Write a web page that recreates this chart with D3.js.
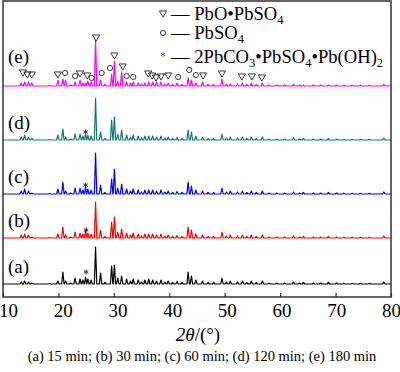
<!DOCTYPE html>
<html>
<head>
<meta charset="utf-8">
<title>xrd</title>
<script type="text/javascript" src="https://d3js.org/d3.v7.js"></script>
<style>
  body { margin: 0; background: #fff; }
  text { font-family: "Liberation Serif", "Times New Roman", serif; }
</style>
</head>
<body>
<script type="text/javascript">
const width = 400;
const height = 372;

// peak positions (2theta) and intensities for each sample
const twoTheta = [13.3, 13.9, 14.6, 15.2, 18.4, 19.9, 20.8, 21.3, 22.2, 23.0, 23.9, 24.4, 24.9, 25.3, 25.9,
  26.7, 27.6, 28.4, 29.6, 30.1, 30.7, 31.4, 32.3, 33.0, 33.5, 34.4, 35.0, 35.6, 36.3, 37.0, 37.7, 38.5,
  39.2, 39.8, 40.6, 41.4, 42.3, 43.4, 44.0, 44.8, 46.0, 47.0, 48.0, 49.5, 50.3, 51.0, 52.3, 53.2, 54.0,
  54.8, 55.7, 56.8, 58.0, 59.4, 60.8, 62.4, 63.5, 64.2, 66.0, 67.3, 68.7, 70.2, 71.5, 73.0, 74.5, 76.1, 78.7];
const intA = [20, 30, 20, 10, 5, 30, 120, 30, 10, 60, 50, 40, 70, 50, 40,
  370, 110, 15, 180, 190, 60, 80, 50, 30, 50, 40, 20, 40, 50, 40, 30, 40,
  20, 30, 15, 25, 15, 120, 80, 40, 30, 15, 15, 60, 20, 30, 20, 30, 15,
  30, 15, 30, 10, 10, 10, 20, 10, 15, 10, 10, 15, 10, 8, 8, 8, 8, 20];
const intB = [30, 40, 30, 10, 5, 40, 110, 30, 10, 60, 50, 40, 80, 50, 40,
  360, 80, 15, 160, 210, 60, 90, 50, 30, 50, 40, 20, 40, 40, 40, 30, 40,
  20, 30, 15, 25, 15, 110, 80, 40, 30, 15, 15, 60, 20, 30, 20, 30, 15,
  30, 15, 30, 10, 10, 10, 20, 10, 15, 10, 10, 15, 10, 8, 8, 8, 8, 20];
const intC = [30, 50, 30, 10, 5, 50, 120, 30, 10, 60, 60, 40, 70, 50, 40,
  410, 90, 15, 150, 250, 60, 100, 50, 30, 50, 40, 20, 40, 40, 40, 30, 40,
  20, 30, 15, 25, 15, 120, 80, 40, 30, 15, 15, 60, 20, 30, 20, 30, 15,
  30, 15, 30, 10, 10, 10, 20, 10, 15, 10, 10, 15, 10, 8, 8, 8, 8, 20];
const intD = [30, 50, 30, 20, 5, 50, 110, 30, 10, 60, 60, 40, 60, 50, 40,
  420, 80, 15, 200, 230, 60, 100, 50, 30, 50, 40, 20, 40, 40, 40, 30, 40,
  20, 30, 15, 25, 15, 100, 80, 40, 30, 15, 15, 60, 20, 30, 20, 30, 15,
  30, 15, 30, 10, 10, 10, 20, 10, 15, 10, 10, 15, 10, 8, 8, 8, 8, 20];
const intE = [30, 40, 40, 30, 5, 60, 70, 60, 10, 40, 60, 30, 30, 50, 40,
  460, 60, 15, 120, 250, 50, 140, 40, 30, 40, 30, 20, 30, 40, 40, 40, 40,
  20, 30, 15, 30, 15, 80, 60, 30, 40, 15, 15, 70, 15, 20, 20, 30, 15,
  30, 15, 30, 10, 10, 10, 15, 10, 10, 10, 10, 10, 10, 8, 8, 8, 8, 15];
const series = [intA, intB, intC, intD, intE];
const offsets = [130, 590, 1030, 1570, 2110];
const labels = ["(a)", "(b)", "(c)", "(d)", "(e)"];

// phase markers on pattern (e): position and height above its baseline
const triTheta = [13.6, 14.4, 15.2, 19.9, 23.9, 25.2, 26.8, 30.1, 31.6, 36.2, 36.9, 37.6, 38.5, 39.8, 46.1, 49.5, 53.1, 54.9, 56.7];
const triLevel = [140, 120, 120, 120, 130, 110, 490, 310, 200, 130, 110, 90, 100, 110, 110, 130, 100, 100, 90];
const circTheta = [21.2, 23.0, 26.0, 27.8, 29.3, 32.3, 33.5, 41.6, 43.6, 44.8];
const circLevel = [130, 100, 80, 130, 180, 100, 90, 90, 160, 110];
// asterisk marks on (a)-(d)
const starTheta = [25.0, 25.0, 24.9, 24.9];
const starLevel = [120, 80, 90, 80];

const xTicks = [10, 20, 30, 40, 50, 60, 70, 80];

const colors = ["#000000", "#ff0000", "#0000ff", "#137a70", "#ff00ff"];

const svg = d3.select("body")
  .append("svg")
  .attr("width", width)
  .attr("height", height);

const x = d3.scaleLinear().domain([10, 80]).range([3, 391]);
const y = d3.scaleLinear().domain([0, 2960]).range([297, 1]);
const xLab = d3.scaleLinear().domain([10, 80]).range([8, 391]);

// build each pattern from its peak list
const w = 0.22;
function profile(h, off) {
  const pts = [[10, off], [80, off]];
  twoTheta.forEach((p, i) => {
    pts.push([p - w, off], [p, off + h[i]], [p + w, off]);
  });
  pts.sort((a, b) => a[0] - b[0]);
  return pts;
}

const line = d3.line().x(d => x(d[0])).y(d => y(d[1]));

series.forEach((s, i) => {
  svg.append("path")
    .attr("d", line(profile(s, offsets[i])))
    .attr("fill", "none")
    .attr("stroke", colors[i])
    .attr("stroke-width", 1.2)
    .attr("stroke-linejoin", "round");
  svg.append("text")
    .attr("x", 8)
    .attr("y", y(offsets[i]) - (i == 4 ? 23 : 11))
    .attr("font-size", 19)
    .text(labels[i]);
});

// markers
const tri = d3.symbol().type(d3.symbolTriangle).size(22);
svg.selectAll(".tri")
  .data(triTheta)
  .enter().append("path")
  .attr("d", tri)
  .attr("transform", (d, i) => `translate(${x(d)},${y(offsets[4] + triLevel[i])}) rotate(180)`)
  .attr("fill", "none")
  .attr("stroke", "#222")
  .attr("stroke-width", 0.9);

svg.selectAll(".circ")
  .data(circTheta)
  .enter().append("circle")
  .attr("cx", d => x(d))
  .attr("cy", (d, i) => y(offsets[4] + circLevel[i]))
  .attr("r", 2.6)
  .attr("fill", "none")
  .attr("stroke", "#222")
  .attr("stroke-width", 0.9);

const star = d3.symbol().type(d3.symbolAsterisk).size(18);
svg.selectAll(".star")
  .data(starTheta)
  .enter().append("path")
  .attr("d", star)
  .attr("transform", (d, i) => `translate(${x(d)},${y(offsets[i] + starLevel[i])})`)
  .attr("fill", "none")
  .attr("stroke", "#333")
  .attr("stroke-width", 1);

// frame and axis
svg.append("rect")
  .attr("x", 3).attr("y", 1)
  .attr("width", 388).attr("height", 296)
  .attr("fill", "none")
  .attr("stroke", "#333")
  .attr("stroke-width", 1.5);

const ax = svg.append("g")
  .attr("transform", "translate(0,297)")
  .call(d3.axisBottom(x).tickValues(xTicks).tickSizeInner(-4).tickSizeOuter(0).tickPadding(7));
ax.select(".domain").remove();
ax.selectAll("line").attr("stroke", "#333").attr("stroke-width", 1.2);
ax.selectAll("text")
  .attr("font-size", 19)
  .attr("font-family", "Liberation Serif")
  .attr("fill", "#000")
  .attr("dx", d => xLab(d) - x(d));

// x title
const t = svg.append("text")
  .attr("x", 198).attr("y", 341)
  .attr("text-anchor", "middle")
  .attr("font-size", 19);
t.append("tspan").attr("font-style", "italic").text("2θ");
t.append("tspan").text("/(°)");

// legend
const legY = [19.5, 39, 63];
svg.append("path")
  .attr("d", tri)
  .attr("transform", `translate(163,${legY[0] - 6.5}) rotate(180)`)
  .attr("fill", "none").attr("stroke", "#222").attr("stroke-width", 0.9);
svg.append("circle")
  .attr("cx", 163).attr("cy", legY[1] - 6).attr("r", 2.6)
  .attr("fill", "none").attr("stroke", "#222").attr("stroke-width", 0.9);
svg.append("path")
  .attr("d", star)
  .attr("transform", `translate(163,${legY[2] - 8.5})`)
  .attr("fill", "none").attr("stroke", "#777").attr("stroke-width", 1);

function legText(yy, parts) {
  const g = svg.append("text").attr("x", 171).attr("y", yy).attr("font-size", 18.6);
  let down = false;
  parts.forEach(p => {
    const s = g.append("tspan").text(p[0]);
    if (p[1]) {
      s.attr("font-size", 12.5).attr("dy", 4);
      down = true;
    } else if (down) {
      s.attr("dy", -4);
      down = false;
    }
  });
}
legText(legY[0], [["— PbO•PbSO"], ["4", 1]]);
legText(legY[1], [["— PbSO"], ["4", 1]]);
legText(legY[2], [["— 2PbCO"], ["3", 1], ["•PbSO"], ["4", 1], ["•Pb(OH)"], ["2", 1]]);

// caption
svg.append("text")
  .attr("x", 202).attr("y", 361)
  .attr("text-anchor", "middle")
  .attr("font-size", 14.5)
  .text("(a) 15 min; (b) 30 min; (c) 60 min; (d) 120 min; (e) 180 min");
</script>
</body>
</html>
